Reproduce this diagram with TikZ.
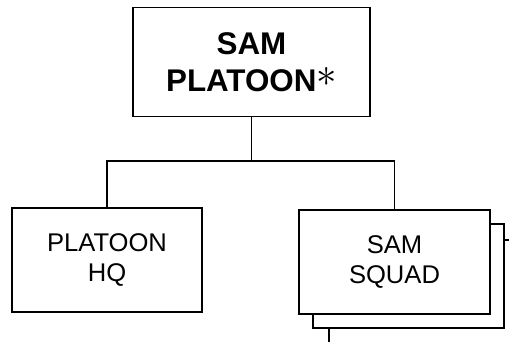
\documentclass[tikz,border=0pt]{standalone}
\usepackage{fontspec}
\setmainfont{Liberation Sans}
\usepackage{tikz}
\usetikzlibrary{positioning,shadows}
\tikzset{
  unit/.style={draw=black, fill=white, line width=1pt, align=center, inner sep=0pt},
  topunit/.style={unit, minimum width=59.25mm, minimum height=27.25mm,
                  font=\fontsize{22.3}{26}\selectfont\bfseries},
  subunit/.style={unit, minimum width=47.5mm, minimum height=26mm,
                  font=\fontsize{18.2}{21.8}\selectfont},
  stacked/.style={copy shadow={shadow xshift=7.5mm, shadow yshift=-7.5mm},
                  copy shadow={shadow xshift=3.5mm, shadow yshift=-3.5mm}},
  link/.style={draw=black, line width=1pt}
}

\begin{document}
\begin{tikzpicture}[x=0.25mm, y=-0.25mm]
\clip (0,0) rectangle (509,341);
\fill[white] (0,0) rectangle (509,341);
% units
\node (platoon) [topunit] at (251.5,62) {SAM\\PLATOON\raisebox{1.2mm}{\scalebox{1.4}{$\ast$}}};
\node (hq) [subunit] at (107,260) {PLATOON\\HQ};
\node (squad) [subunit, stacked, minimum width=47.75mm] at (394.5,262) {SAM\\SQUAD};
% lines
\coordinate (bus) at (platoon.south |- 0,161);
\draw[link] (platoon.south) -- (bus);
\draw[link] (hq.north) |- (bus) -| (squad.north);
\end{tikzpicture}
\end{document}
